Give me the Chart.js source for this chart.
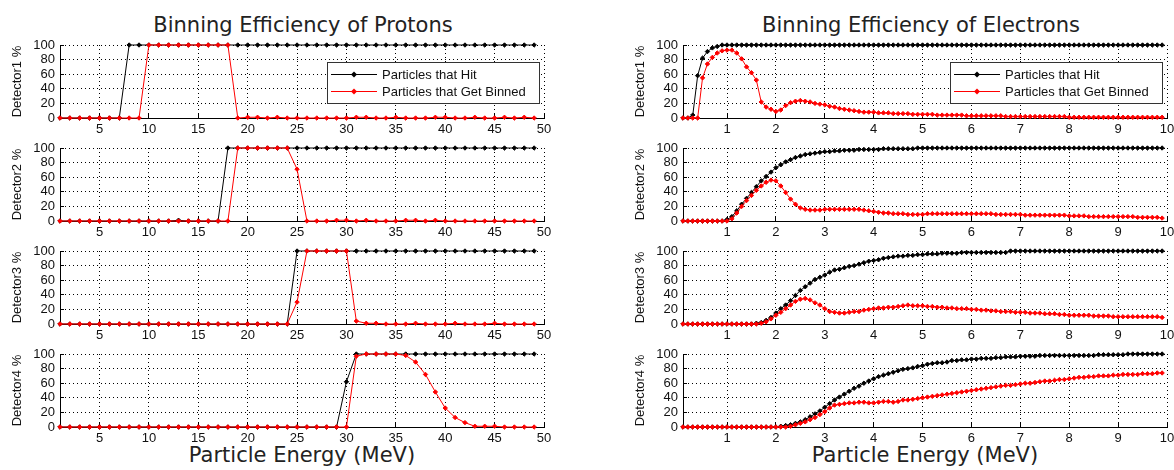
<!DOCTYPE html>
<html>
<head>
<meta charset="utf-8">
<script src="https://cdn.jsdelivr.net/npm/chart.js@4.4.1/dist/chart.umd.min.js"></script>
<style>
  body { margin: 0; background: #fff; }
  #fig { position: relative; width: 1174px; height: 470px; overflow: hidden; background: #fff; }
  #fig canvas { position: absolute; }
  .ttl { position: absolute; width: 484px; text-align: center; font: 21px "DejaVu Sans"; line-height: 21px; color: #222; white-space: nowrap; }
</style>
</head>
<body>
<div id="fig">
  <div class="ttl" style="left:61px;top:15px">Binning Efficiency of Protons</div>
  <div class="ttl" style="left:679px;top:15px">Binning Efficiency of Electrons</div>
  <div class="ttl" style="left:60px;top:445px">Particle Energy (MeV)</div>
  <div class="ttl" style="left:683px;top:445px">Particle Energy (MeV)</div>
</div>
<script>
// ---- data ----
const seriesNames = ['Particles that Hit', 'Particles that Get Binned'];
const detectorLabels = ['Detector1 %', 'Detector2 %', 'Detector3 %', 'Detector4 %'];

const protonTicks = [5, 10, 15, 20, 25, 30, 35, 40, 45, 50];
const electronTicks = [1, 2, 3, 4, 5, 6, 7, 8, 9, 10];
const yTicks = [0, 20, 40, 60, 80, 100];

const protonEnergy = [1, 2, 3, 4, 5, 6, 7, 8, 9, 10,
  11, 12, 13, 14, 15, 16, 17, 18, 19, 20,
  21, 22, 23, 24, 25, 26, 27, 28, 29, 30,
  31, 32, 33, 34, 35, 36, 37, 38, 39, 40,
  41, 42, 43, 44, 45, 46, 47, 48, 49];

const protonHit1 = [0, 0, 0, 0, 0, 0, 0, 100, 100, 100,
  100, 100, 100, 100, 100, 100, 100, 100, 100, 100,
  100, 100, 100, 100, 100, 100, 100, 100, 100, 100,
  100, 100, 100, 100, 100, 100, 100, 100, 100, 100,
  100, 100, 100, 100, 100, 100, 100, 100, 100];
const protonBinned1 = [0, 0, 0, 0, 0, 0, 0, 0, 0, 100,
  100, 100, 100, 100, 100, 100, 100, 100, 0, 1,
  1, 0, 1, 0, 0, 0, 0, 0, 0, 0,
  1, 1, 0, 0, 1, 0, 0, 0, 1, 1,
  0, 0, 1, 0, 0, 1, 0, 1, 0];

const protonHit2 = [0, 0, 0, 0, 0, 0, 0, 0, 0, 0,
  0, 0, 1, 0, 0, 0, 0, 100, 100, 100,
  100, 100, 100, 100, 100, 100, 100, 100, 100, 100,
  100, 100, 100, 100, 100, 100, 100, 100, 100, 100,
  100, 100, 100, 100, 100, 100, 100, 100, 100];
const protonBinned2 = [0, 0, 0, 0, 0, 0, 0, 0, 0, 0,
  0, 0, 0, 0, 0, 0, 0, 0, 100, 100,
  100, 100, 100, 100, 71, 0, 0, 0, 1, 1,
  0, 1, 0, 0, 0, 1, 1, 0, 1, 0,
  0, 0, 0, 0, 0, 0, 0, 0, 0];

const protonHit3 = [0, 0, 0, 0, 0, 0, 0, 0, 0, 0,
  0, 0, 0, 0, 0, 0, 0, 0, 0, 0,
  0, 0, 0, 0, 100, 100, 100, 100, 100, 100,
  100, 100, 100, 100, 100, 100, 100, 100, 100, 100,
  100, 100, 100, 100, 100, 100, 100, 100, 100];
const protonBinned3 = [0, 0, 0, 0, 0, 0, 0, 0, 0, 0,
  0, 0, 0, 0, 0, 0, 0, 0, 0, 0,
  0, 0, 0, 0, 30, 100, 100, 100, 100, 100,
  4, 1, 1, 0, 0, 0, 1, 0, 0, 0,
  1, 0, 0, 0, 1, 0, 0, 0, 0];

const protonHit4 = [0, 0, 0, 0, 0, 0, 0, 0, 0, 0,
  0, 0, 0, 0, 0, 0, 0, 0, 0, 0,
  0, 0, 0, 0, 0, 0, 0, 0, 0, 62,
  100, 100, 100, 100, 100, 100, 100, 100, 100, 100,
  100, 100, 100, 100, 100, 100, 100, 100, 100];
const protonBinned4 = [0, 0, 0, 0, 0, 0, 0, 0, 0, 0,
  0, 0, 0, 0, 0, 0, 0, 0, 0, 0,
  0, 0, 0, 0, 0, 0, 0, 0, 0, 0,
  97, 100, 100, 100, 100, 98, 89, 72, 48, 26,
  13, 6, 1, 1, 1, 0, 0, 0, 0];

const electronEnergy = [0.1, 0.2, 0.3, 0.4, 0.5, 0.6, 0.7, 0.8, 0.9, 1.0,
  1.1, 1.2, 1.3, 1.4, 1.5, 1.6, 1.7, 1.8, 1.9, 2.0,
  2.1, 2.2, 2.3, 2.4, 2.5, 2.6, 2.7, 2.8, 2.9, 3.0,
  3.1, 3.2, 3.3, 3.4, 3.5, 3.6, 3.7, 3.8, 3.9, 4.0,
  4.1, 4.2, 4.3, 4.4, 4.5, 4.6, 4.7, 4.8, 4.9, 5.0,
  5.1, 5.2, 5.3, 5.4, 5.5, 5.6, 5.7, 5.8, 5.9, 6.0,
  6.1, 6.2, 6.3, 6.4, 6.5, 6.6, 6.7, 6.8, 6.9, 7.0,
  7.1, 7.2, 7.3, 7.4, 7.5, 7.6, 7.7, 7.8, 7.9, 8.0,
  8.1, 8.2, 8.3, 8.4, 8.5, 8.6, 8.7, 8.8, 8.9, 9.0,
  9.1, 9.2, 9.3, 9.4, 9.5, 9.6, 9.7, 9.8, 9.9];

const electronHit1 = [0, 0, 4, 58, 82, 91, 96, 98, 100, 100,
  100, 100, 100, 100, 100, 100, 100, 100, 100, 100,
  100, 100, 100, 100, 100, 100, 100, 100, 100, 100,
  100, 100, 100, 100, 100, 100, 100, 100, 100, 100,
  100, 100, 100, 100, 100, 100, 100, 100, 100, 100,
  100, 100, 100, 100, 100, 100, 100, 100, 100, 100,
  100, 100, 100, 100, 100, 100, 100, 100, 100, 100,
  100, 100, 100, 100, 100, 100, 100, 100, 100, 100,
  100, 100, 100, 100, 100, 100, 100, 100, 100, 100,
  100, 100, 100, 100, 100, 100, 100, 100, 100];
const electronBinned1 = [0, 0, 0, 0, 55, 74, 83, 89, 92, 93,
  93, 89, 81, 70, 62, 52, 22, 15, 12, 9,
  11, 17, 21, 23, 24, 23, 22, 20, 19, 18,
  16, 15, 13, 12, 11, 10, 9, 8, 8, 8,
  7, 7, 7, 6, 6, 6, 6, 5, 5, 5,
  5, 5, 4, 4, 4, 4, 4, 4, 3, 3,
  3, 3, 3, 3, 3, 3, 2, 2, 2, 2,
  2, 2, 2, 2, 2, 2, 2, 2, 2, 1,
  1, 1, 1, 1, 1, 1, 1, 1, 1, 1,
  1, 1, 1, 1, 1, 1, 1, 1, 1];

const electronHit2 = [0, 0, 0, 0, 0, 0, 0, 0, 0, 2,
  6, 14, 23, 31, 39, 47, 55, 61, 67, 73,
  77, 81, 84, 87, 89, 91, 92, 93, 94, 95,
  95, 96, 96, 97, 97, 97, 98, 98, 98, 98,
  98, 99, 99, 99, 99, 99, 99, 99, 100, 100,
  100, 100, 100, 100, 100, 100, 100, 100, 100, 100,
  100, 100, 100, 100, 100, 100, 100, 100, 100, 100,
  100, 100, 100, 100, 100, 100, 100, 100, 100, 100,
  100, 100, 100, 100, 100, 100, 100, 100, 100, 100,
  100, 100, 100, 100, 100, 100, 100, 100, 100];
const electronBinned2 = [0, 0, 0, 0, 0, 0, 0, 0, 0, 0,
  3, 11, 20, 28, 35, 42, 48, 53, 56, 55,
  48, 39, 30, 23, 18, 16, 15, 15, 15, 16,
  16, 16, 16, 16, 16, 16, 16, 15, 14, 13,
  12, 11, 11, 10, 10, 10, 9, 9, 9, 9,
  10, 10, 10, 10, 10, 10, 10, 10, 10, 10,
  10, 10, 10, 10, 9, 9, 9, 9, 9, 9,
  8, 8, 8, 8, 8, 8, 8, 8, 8, 7,
  7, 7, 7, 6, 6, 6, 6, 6, 6, 6,
  6, 6, 6, 5, 5, 5, 5, 5, 4];

const electronHit3 = [0, 0, 0, 0, 0, 0, 0, 0, 0, 0,
  0, 0, 0, 0, 0, 1, 2, 5, 9, 15,
  21, 26, 32, 39, 46, 51, 56, 61, 64, 67,
  71, 74, 75, 77, 79, 80, 82, 84, 86, 87,
  88, 90, 91, 92, 93, 93, 94, 94, 95, 95,
  96, 96, 96, 97, 97, 97, 97, 98, 98, 98,
  98, 98, 98, 98, 98, 98, 98, 100, 100, 100,
  100, 100, 100, 100, 100, 100, 100, 100, 100, 100,
  100, 100, 100, 100, 100, 100, 100, 100, 100, 100,
  100, 100, 100, 100, 100, 100, 100, 100, 100];
const electronBinned3 = [0, 0, 0, 0, 0, 0, 0, 0, 0, 0,
  0, 0, 0, 0, 0, 0, 1, 3, 7, 12,
  16, 21, 26, 31, 34, 35, 33, 29, 26, 21,
  17, 16, 15, 15, 16, 17, 17, 19, 20, 21,
  22, 22, 23, 23, 24, 25, 26, 25, 25, 25,
  24, 24, 23, 23, 22, 22, 21, 21, 21, 20,
  20, 19, 19, 18, 18, 17, 17, 17, 16, 16,
  16, 15, 15, 15, 14, 14, 14, 13, 13, 12,
  12, 12, 12, 12, 11, 11, 11, 11, 10, 10,
  10, 10, 10, 10, 10, 10, 10, 10, 9];

const electronHit4 = [0, 0, 0, 0, 0, 0, 0, 0, 0, 0,
  0, 0, 0, 0, 0, 0, 0, 0, 0, 0,
  1, 2, 3, 5, 7, 10, 14, 18, 22, 27,
  32, 37, 41, 45, 49, 53, 56, 60, 63, 66,
  69, 71, 73, 75, 77, 79, 80, 81, 83, 84,
  86, 87, 88, 88, 89, 91, 91, 92, 92, 93,
  93, 94, 94, 94, 95, 95, 96, 96, 96, 97,
  97, 97, 97, 98, 98, 98, 98, 98, 98, 98,
  98, 98, 98, 98, 98, 99, 99, 99, 99, 99,
  99, 100, 100, 100, 100, 100, 100, 100, 100];
const electronBinned4 = [0, 0, 0, 0, 0, 0, 0, 0, 0, 0,
  0, 0, 0, 0, 0, 0, 0, 0, 0, 0,
  0, 0, 1, 3, 5, 7, 10, 13, 17, 21,
  26, 30, 31, 32, 33, 33, 34, 34, 33, 33,
  34, 35, 35, 34, 35, 37, 37, 38, 39, 40,
  41, 42, 43, 44, 45, 46, 47, 48, 49, 50,
  51, 52, 53, 54, 55, 56, 57, 57, 58, 59,
  60, 60, 61, 62, 63, 63, 64, 65, 65, 66,
  67, 68, 68, 69, 69, 70, 70, 70, 71, 71,
  72, 72, 72, 72, 73, 73, 73, 74, 74];

// ---- layout ----
const plotTops = [45, 148, 251, 354];
const plotW = 484, plotH = 73;
const axisW = 60, axisH = 22, padT = 8, padR = 8;
const tickFont = { family: 'Liberation Sans', size: 13 };

// fixed axis boxes so every plot area lands on the same pixels
function fixBox(s, w, h) {
  if (w !== null) s.width = w;
  if (h !== null) s.height = h;
  s.paddingTop = 0;
  s.paddingBottom = 0;
  s.paddingLeft = 0;
  s.paddingRight = 0;
}

// legend box drawn inside the plot area, top right
const boxLegend = {
  id: 'boxLegend',
  afterDraw(chart, args, opts) {
    if (!opts.show) return;
    const ctx = chart.ctx, a = chart.chartArea;
    const w = 212, h = 41;
    const x0 = Math.round(a.right - 5 - w), y0 = Math.round(a.top + 17);
    ctx.save();
    ctx.fillStyle = '#fff';
    ctx.fillRect(x0, y0, w, h);
    ctx.strokeStyle = '#333';
    ctx.lineWidth = 1;
    ctx.strokeRect(x0 + 0.5, y0 + 0.5, w, h);
    // hit is dataset 1, binned is dataset 0
    [1, 0].forEach((di, row) => {
      const ds = chart.data.datasets[di];
      const y = y0 + 12 + row * 17 + 0.5;
      ctx.strokeStyle = ds.borderColor;
      ctx.beginPath();
      ctx.moveTo(x0 + 4, y);
      ctx.lineTo(x0 + 50, y);
      ctx.stroke();
      ctx.fillStyle = ds.borderColor;
      ctx.beginPath();
      ctx.moveTo(x0 + 27, y - 3);
      ctx.lineTo(x0 + 30, y);
      ctx.lineTo(x0 + 27, y + 3);
      ctx.lineTo(x0 + 24, y);
      ctx.closePath();
      ctx.fill();
      ctx.fillStyle = '#111';
      ctx.font = '13px "Liberation Sans"';
      ctx.textBaseline = 'middle';
      ctx.fillText(ds.label, x0 + 55, y + 1);
    });
    ctx.restore();
  }
};

function makeSet(label, xs, ys, color) {
  return {
    label: label,
    data: xs.map((x, i) => ({ x: x, y: ys[i] })),
    borderColor: color,
    backgroundColor: color,
    borderWidth: 1,
    pointStyle: 'rectRot',
    pointRadius: 2.2,
    pointBorderWidth: 1,
    pointBackgroundColor: color,
    pointBorderColor: color,
    tension: 0,
    clip: false
  };
}

function addPanel(plotLeft, plotTop, xs, hit, binned, xMin, xMax, xTicks, yLabel, showLegend) {
  const cv = document.createElement('canvas');
  cv.width = axisW + plotW + padR;
  cv.height = padT + plotH + axisH;
  cv.style.left = (plotLeft - axisW) + 'px';
  cv.style.top = (plotTop - padT) + 'px';
  document.getElementById('fig').appendChild(cv);

  new Chart(cv.getContext('2d'), {
    type: 'line',
    data: {
      datasets: [
        makeSet(seriesNames[1], xs, binned, '#ff0000'),
        makeSet(seriesNames[0], xs, hit, '#000000')
      ]
    },
    plugins: [boxLegend],
    options: {
      responsive: false,
      animation: false,
      devicePixelRatio: 1,
      layout: { padding: { top: padT, right: padR, left: 0, bottom: 0 } },
      plugins: {
        legend: { display: false },
        tooltip: { enabled: false },
        boxLegend: { show: showLegend }
      },
      scales: {
        x: {
          type: 'linear',
          min: xMin,
          max: xMax,
          afterBuildTicks: s => { s.ticks = xTicks.map(v => ({ value: v })); },
          afterFit: s => fixBox(s, null, axisH),
          ticks: { font: tickFont, color: '#111', padding: 8, maxRotation: 0, autoSkip: false },
          grid: { color: '#000', lineWidth: 1, drawTicks: true, tickLength: -4, tickColor: '#000' },
          border: { display: true, color: '#000', width: 1, dash: [1, 3] }
        },
        y: {
          min: 0,
          max: 100,
          afterBuildTicks: s => { s.ticks = yTicks.map(v => ({ value: v })); },
          afterFit: s => fixBox(s, axisW, null),
          ticks: { font: tickFont, color: '#111', padding: 9, autoSkip: false },
          grid: { color: '#000', lineWidth: 1, drawTicks: true, tickLength: -4, tickColor: '#000' },
          border: { display: true, color: '#000', width: 1, dash: [1, 3] },
          title: { display: true, text: yLabel, font: tickFont, color: '#111', padding: { top: 10, bottom: 0 } }
        }
      }
    }
  });
}

const protonSets = [[protonHit1, protonBinned1], [protonHit2, protonBinned2], [protonHit3, protonBinned3], [protonHit4, protonBinned4]];
const electronSets = [[electronHit1, electronBinned1], [electronHit2, electronBinned2], [electronHit3, electronBinned3], [electronHit4, electronBinned4]];

for (let r = 0; r < 4; r++) {
  addPanel(60, plotTops[r], protonEnergy, protonSets[r][0], protonSets[r][1], 1, 50, protonTicks, detectorLabels[r], r === 0);
  addPanel(683, plotTops[r], electronEnergy, electronSets[r][0], electronSets[r][1], 0.1, 10, electronTicks, detectorLabels[r], r === 0);
}
</script>
</body>
</html>
